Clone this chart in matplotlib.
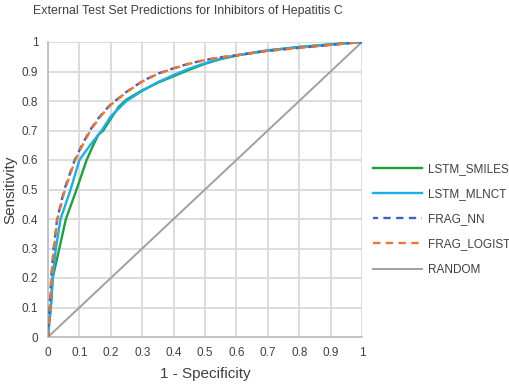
import matplotlib
matplotlib.use("Agg")
import matplotlib.pyplot as plt

title = "External Test Set Predictions for Inhibitors of Hepatitis C"
x_label = "1 - Specificity"
y_label = "Sensitivity"
ticks = [0, 0.1, 0.2, 0.3, 0.4, 0.5, 0.6, 0.7, 0.8, 0.9, 1]
tick_labels = ["0", "0.1", "0.2", "0.3", "0.4", "0.5", "0.6", "0.7", "0.8", "0.9", "1"]

smiles_fpr = [0, 0.004, 0.009, 0.015, 0.036, 0.057, 0.091, 0.123, 0.144, 0.160, 0.176, 0.20, 0.225, 0.25, 0.30, 0.35, 0.40, 0.45, 0.50, 0.55, 0.60, 0.70, 0.80, 0.90, 1.0]
smiles_tpr = [0, 0.05, 0.10, 0.20, 0.30, 0.40, 0.50, 0.60, 0.65, 0.685, 0.70, 0.740, 0.780, 0.805, 0.836, 0.862, 0.884, 0.906, 0.926, 0.942, 0.954, 0.971, 0.983, 0.992, 1.0]

mlnct_fpr = [0, 0.004, 0.009, 0.015, 0.025, 0.040, 0.072, 0.100, 0.134, 0.171, 0.20, 0.25, 0.30, 0.35, 0.40, 0.45, 0.50, 0.55, 0.60, 0.70, 0.80, 0.90, 1.0]
mlnct_tpr = [0, 0.05, 0.10, 0.20, 0.30, 0.40, 0.50, 0.60, 0.65, 0.70, 0.748, 0.800, 0.834, 0.864, 0.888, 0.910, 0.928, 0.943, 0.955, 0.972, 0.983, 0.992, 1.0]

nn_fpr = [0, 0.002, 0.005, 0.010, 0.018, 0.029, 0.052, 0.085, 0.108, 0.133, 0.163, 0.198, 0.25, 0.30, 0.35, 0.40, 0.45, 0.50, 0.55, 0.60, 0.70, 0.80, 0.90, 1.0]
nn_tpr = [0, 0.05, 0.10, 0.20, 0.30, 0.40, 0.50, 0.60, 0.65, 0.70, 0.745, 0.787, 0.831, 0.867, 0.893, 0.911, 0.927, 0.939, 0.948, 0.955, 0.970, 0.980, 0.990, 1.0]

logist_fpr = [0, 0.003, 0.006, 0.011, 0.019, 0.030, 0.054, 0.087, 0.110, 0.135, 0.165, 0.20, 0.25, 0.30, 0.35, 0.40, 0.45, 0.50, 0.55, 0.60, 0.70, 0.80, 0.90, 1.0]
logist_tpr = [0, 0.05, 0.10, 0.20, 0.30, 0.40, 0.50, 0.60, 0.65, 0.70, 0.745, 0.787, 0.830, 0.866, 0.892, 0.910, 0.926, 0.939, 0.948, 0.955, 0.970, 0.980, 0.990, 1.0]

random_fpr = [0, 1]
random_tpr = [0, 1]

plt.rcParams['font.family'] = ['Liberation Sans', 'DejaVu Sans']

fig = plt.figure(figsize=(5.10, 3.84), dpi=100)
ax = fig.add_axes([48/510, 47/384, 314/510, 295/384])

lw = 1.7
ax.plot(smiles_fpr, smiles_tpr, color="#1aa339", lw=lw, label="LSTM_SMILES", zorder=3)
ax.plot(mlnct_fpr, mlnct_tpr, color="#1aaeea", lw=lw, label="LSTM_MLNCT", zorder=4)
ax.plot(nn_fpr, nn_tpr, color="#3a62c4", lw=lw, ls=(1.0, (3.1, 2.3)), label="FRAG_NN", zorder=5)
ax.plot(logist_fpr, logist_tpr, color="#ee7530", lw=lw, ls=(0, (3.1, 2.3)), label="FRAG_LOGIST", zorder=6)
ax.plot(random_fpr, random_tpr, color="#a0a0a0", lw=1.4, label="RANDOM", zorder=2)

ax.set_xlim(0, 1)
ax.set_ylim(0, 1)
ax.set_xticks(ticks)
ax.set_xticklabels(tick_labels)
ax.set_yticks(ticks)
ax.set_yticklabels(tick_labels)
ax.grid(True, color="#d9d9d9", lw=1.3)
ax.set_axisbelow(True)
for s in ["top", "right"]:
    ax.spines[s].set_visible(False)
for s in ["left", "bottom"]:
    ax.spines[s].set_color("#bfbfbf")
    ax.spines[s].set_linewidth(1.3)
ax.tick_params(length=0, labelsize=8.5, labelcolor="#404040", pad=7)

ax.set_xlabel(x_label, fontsize=11, color="#404040", labelpad=6)
ax.set_ylabel(y_label, fontsize=11, color="#404040", labelpad=3)

fig.text(33/510, 1 - 11/384, title, fontsize=8.9, color="#404040", va="center", ha="left")

leg = ax.legend(loc="upper left", bbox_to_anchor=(1.0, 0.625), frameon=False,
                fontsize=8.5, handlelength=4.2, labelspacing=1.11, handletextpad=0.45,
                borderaxespad=0.5)
for t in leg.get_texts():
    t.set_color("#404040")

fig.savefig("out.png", dpi=100)
